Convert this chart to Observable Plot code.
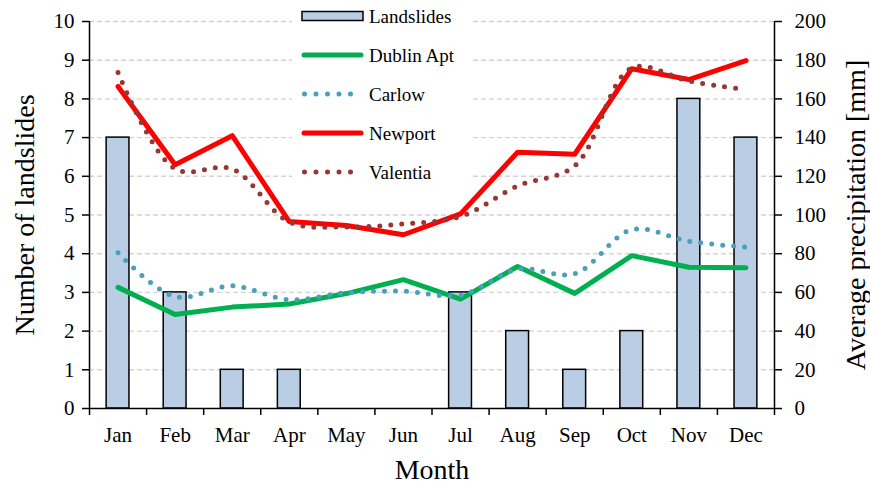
<!DOCTYPE html>
<html><head><meta charset="utf-8">
<script src="https://cdn.jsdelivr.net/npm/d3@7"></script>
<script src="https://cdn.jsdelivr.net/npm/@observablehq/plot@0.6"></script>
<style>
body{margin:0;background:#fff;}
#wrap{position:relative;width:870px;height:488px;font-family:"Liberation Serif","Times New Roman",serif;color:#000;}
#legend{position:absolute;left:292px;top:0;}
</style>
</head><body>
<div id="wrap"><div id="chart"></div><div id="legend"></div></div>
<script>
const months = ["Jan","Feb","Mar","Apr","May","Jun","Jul","Aug","Sep","Oct","Nov","Dec"];
const landslides = [7,3,1,1,0,0,3,2,1,2,8,7];
const dublinApt = [62.6,48.6,52.4,54,59.4,66.6,56.5,73.4,59.5,79,73,72.8];
const carlow = [80.5,57.8,63.4,56.2,59.8,60.6,58.5,72,69.6,92.4,86.4,83.4];
const newport = [166.4,126,141,96.6,94.6,89.8,100.6,132.4,131.4,175.6,170,179.8];
const valentia = [173.6,123.8,123.8,96.4,93.8,95.4,99.2,115,125.4,176,169.2,164.8];
const leftTicks = [0,1,2,3,4,5,6,7,8,9,10];
const rightTicks = [0,20,40,60,80,100,120,140,160,180,200];

const barData = months.map((m,i)=>({i, m, n: landslides[i]}));
const series = [
  {name:"Dublin Apt", values: dublinApt, color:"#00b050", dotted:false},
  {name:"Carlow", values: carlow, color:"#4a9fbd", dotted:true},
  {name:"Newport", values: newport, color:"#ff0000", dotted:false},
  {name:"Valentia", values: valentia, color:"#953735", dotted:true}
];
const scaleRatio = rightTicks[rightTicks.length-1] / leftTicks[leftTicks.length-1];

const lineMarks = series.map(s => Plot.line(s.values, {
  x: (d,i) => i + 0.5,
  y: d => d / scaleRatio,
  stroke: s.color,
  strokeWidth: 5,
  strokeDasharray: s.dotted ? "0 11" : null,
  strokeLinecap: "round",
  strokeLinejoin: "round",
  curve: s.dotted ? "catmull-rom" : "linear"
}));

const chart = Plot.plot({
  width: 870, height: 488,
  marginLeft: 89, marginRight: 96, marginTop: 21, marginBottom: 80,
  x: {domain: [0, 12]},
  y: {domain: [0, 10]},
  style: {fontFamily: '"Liberation Serif","Times New Roman",serif', fontSize: "21px", color: "#000", background: "#fff", overflow: "visible"},
  marks: [
    Plot.gridY(leftTicks.slice(1), {stroke: "#d4d4d4", strokeOpacity: 1, strokeWidth: 1.4, strokeDasharray: "5 3"}),
    Plot.rectY(barData, {x1: d => d.i + 0.3, x2: d => d.i + 0.7, y: "n", fill: "#b9cde5", stroke: "#000", strokeWidth: 1.5}),
    ...lineMarks,
    Plot.ruleX([0, 12], {stroke: "#000", strokeWidth: 1.5}),
    Plot.ruleY([0], {stroke: "#000", strokeWidth: 1.5}),
    Plot.axisX({ticks: d3.range(13), tickSize: 7, tickFormat: () => "", label: null, strokeWidth: 1.5}),
    Plot.axisX({ticks: d3.range(12).map(i => i + 0.5), tickSize: 0, tickPadding: 19, tickFormat: d => months[Math.floor(d)], label: null, fontSize: 21}),
    Plot.axisY({ticks: leftTicks, anchor: "left", tickSize: 7, tickPadding: 8, label: null, fontSize: 21, strokeWidth: 1.5}),
    Plot.axisY({ticks: leftTicks, anchor: "right", tickSize: 7, tickPadding: 13, tickFormat: d => rightTicks[d], label: null, fontSize: 21, strokeWidth: 1.5}),
    Plot.text(["Month"], {frameAnchor: "bottom", dy: 62, fontSize: 28, textAnchor: "middle", lineAnchor: "middle"}),
    Plot.text(["Number of landslides"], {frameAnchor: "left", dx: -64, rotate: -90, fontSize: 28, textAnchor: "middle", lineAnchor: "middle"}),
    Plot.text(["Average precipitation [mm]"], {frameAnchor: "right", dx: 82, rotate: -90, fontSize: 28, textAnchor: "middle", lineAnchor: "middle"})
  ]
});
document.getElementById("chart").appendChild(chart);

// legend
const legendItems = [{name: "Landslides", type: "bar", color: "#b9cde5"}, ...series.map(s => ({name: s.name, type: s.dotted ? "dot" : "line", color: s.color}))];
const lg = d3.select("#legend").append("svg").attr("width", 178).attr("height", 188)
  .style("font-family", '"Liberation Serif","Times New Roman",serif');
lg.append("rect").attr("width", 178).attr("height", 188).attr("fill", "#fff");
const rows = lg.selectAll("g").data(legendItems).join("g")
  .attr("transform", (d, i) => `translate(0,${16 + i * 39})`);
rows.each(function(d) {
  const g = d3.select(this);
  if (d.type === "bar") {
    g.append("rect").attr("x", 10).attr("y", -4.5).attr("width", 61).attr("height", 9)
      .attr("fill", d.color).attr("stroke", "#000").attr("stroke-width", 1.5);
  } else if (d.type === "line") {
    g.append("line").attr("x1", 12).attr("x2", 69).attr("stroke", d.color).attr("stroke-width", 5).attr("stroke-linecap", "round");
  } else {
    g.append("line").attr("x1", 12.5).attr("x2", 70).attr("stroke", d.color).attr("stroke-width", 5)
      .attr("stroke-linecap", "round").attr("stroke-dasharray", "0 11.5");
  }
  g.append("text").attr("x", 77).attr("dy", "0.35em").attr("font-size", 19).attr("fill", "#000").text(d.name);
});
</script>
</body></html>
